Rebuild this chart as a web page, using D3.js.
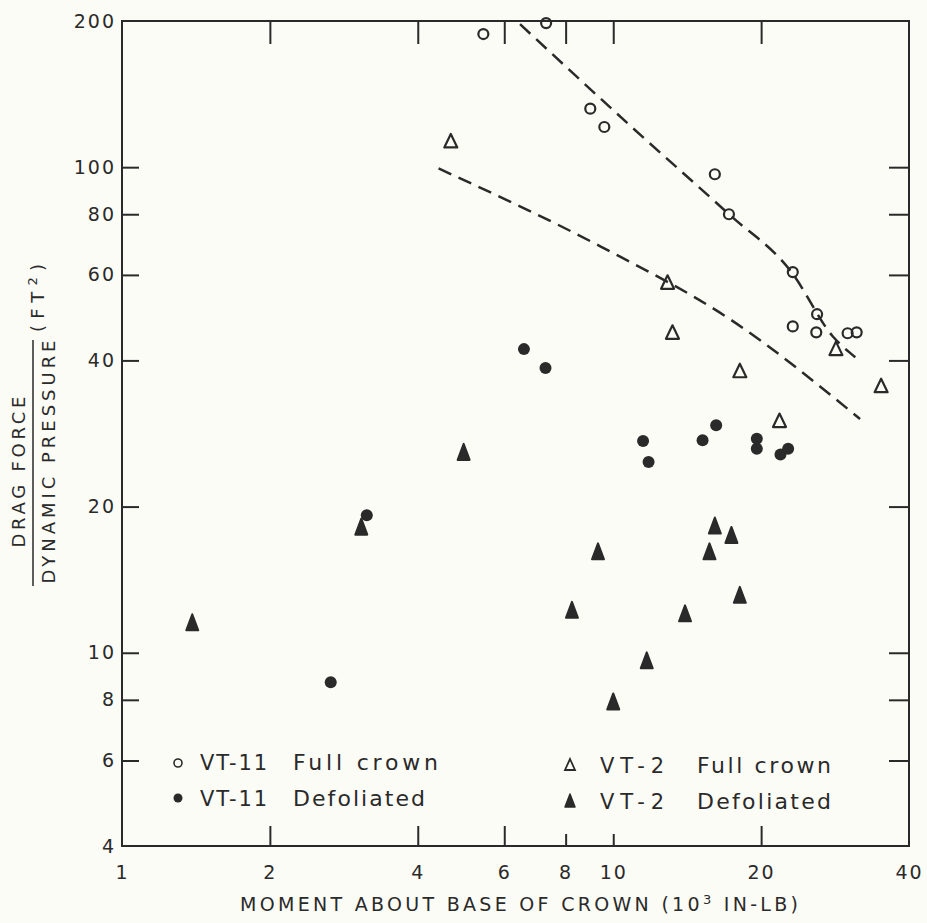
<!DOCTYPE html>
<html>
<head>
<meta charset="utf-8">
<script src="https://cdn.jsdelivr.net/npm/d3@7"></script>
<style>
  body { margin: 0; background: #fcfcf6; }
  svg { display: block; }
  text { font-family: 'DejaVu Sans', sans-serif; fill: #2a2a2a; }
</style>
</head>
<body>
<div id="chart"></div>
<script>
// VT-11 full crown (open circles)
const vt11FullX = [5.44, 7.30, 8.98, 9.59, 16.1, 17.2, 23.2, 26.0, 23.2, 25.9, 30.0, 31.3];
const vt11FullY = [188, 198, 132, 121, 96.7, 80.0, 60.8, 49.8, 47.0, 45.7, 45.5, 45.7];

// VT-11 defoliated (filled circles)
const vt11DefX = [6.58, 7.28, 3.15, 2.66, 11.5, 11.8, 15.2, 16.2, 19.6, 19.6, 21.9, 22.7];
const vt11DefY = [42.2, 38.6, 19.2, 8.7, 27.3, 24.7, 27.4, 29.4, 27.6, 26.3, 25.6, 26.3];

// VT-2 full crown (open triangles)
const vt2FullX = [4.67, 12.9, 13.2, 18.1, 21.8, 28.4, 35.1];
const vt2FullY = [113, 57.8, 45.6, 38.0, 30.0, 42.2, 35.4];

// VT-2 defoliated (filled triangles)
const vt2DefX = [1.39, 3.07, 4.96, 9.31, 8.24, 10.0, 11.7, 14.0, 16.1, 15.7, 17.4, 18.1];
const vt2DefY = [11.5, 18.1, 25.8, 16.1, 12.2, 7.9, 9.6, 12.0, 18.2, 16.1, 17.4, 13.1];

// dashed fit curves
const fitVt11 = [[6.46, 197], [11.0, 120], [17.2, 80.0], [23.0, 61.0], [28.0, 44.8], [31.1, 40.6]];
const fitVt2 = [[4.41, 99.4], [9.41, 68.7], [17.3, 48.6], [31.8, 30.3]];

const xLabelTicks = [1, 2, 4, 6, 8, 10, 20, 40];
const xInnerTicks = [2, 4, 6, 8, 10, 20];
const yLabelTicks = [4, 6, 8, 10, 20, 40, 60, 80, 100, 200];
const yInnerTicks = [6, 8, 10, 20, 40, 60, 80, 100];

const ink = '#2a2a2a';

const config = {
  containerWidth: 927,
  containerHeight: 923,
  margin: { top: 21, right: 18, bottom: 77, left: 122 }
};
config.width = config.containerWidth - config.margin.left - config.margin.right;
config.height = config.containerHeight - config.margin.top - config.margin.bottom;

const svg = d3.select('#chart').append('svg')
  .attr('width', config.containerWidth)
  .attr('height', config.containerHeight);

const chart = svg.append('g')
  .attr('transform', `translate(${config.margin.left},${config.margin.top})`);

const xScale = d3.scaleLog().domain([1, 40]).range([0, config.width]);
const yScale = d3.scaleLog().domain([4, 200]).range([config.height, 0]);

// frame
chart.append('rect')
  .attr('width', config.width)
  .attr('height', config.height)
  .attr('fill', 'none')
  .attr('stroke', ink)
  .attr('stroke-width', 2);

const styleAxis = g => {
  g.select('.domain').remove();
  g.selectAll('line').attr('stroke', ink).attr('stroke-width', 2);
  g.selectAll('text')
    .attr('fill', ink)
    .style('font-size', '19px')
    .style('letter-spacing', '2px');
};

// bottom: labels + inward ticks
const xBottom = chart.append('g')
  .attr('transform', `translate(0,${config.height})`)
  .call(d3.axisBottom(xScale).tickValues(xLabelTicks).tickSize(-20).tickPadding(20)
    .tickFormat(d3.format('d')))
  .call(styleAxis);
xBottom.selectAll('.tick')
  .filter(d => d === 1 || d === 40)
  .select('line').remove();
xBottom.selectAll('.tick')
  .filter(d => d === 8 || d === 10)
  .select('line').attr('y2', -12);

chart.append('g')
  .call(d3.axisTop(xScale).tickValues(xInnerTicks).tickSize(-23).tickFormat(''))
  .call(styleAxis);

const yLeft = chart.append('g')
  .call(d3.axisLeft(yScale).tickValues(yLabelTicks).tickSize(-17).tickPadding(6)
    .tickFormat(d3.format('d')))
  .call(styleAxis);
yLeft.selectAll('.tick')
  .filter(d => d === 4 || d === 200)
  .select('line').remove();

chart.append('g')
  .attr('transform', `translate(${config.width},0)`)
  .call(d3.axisRight(yScale).tickValues(yInnerTicks).tickSize(-20).tickFormat(''))
  .call(styleAxis);

// fit lines
const line = d3.line()
  .x(d => xScale(d[0]))
  .y(d => yScale(d[1]))
  .curve(d3.curveMonotoneX);

chart.selectAll('.fit')
  .data([fitVt11, fitVt2])
  .join('path')
  .attr('class', 'fit')
  .attr('d', line)
  .attr('fill', 'none')
  .attr('stroke', ink)
  .attr('stroke-width', 2.5)
  .attr('stroke-dasharray', '14,8');

// markers
const openTri = 'M0,-7.5L6.5,6L-6.5,6Z';
const fillTri = 'M0,-9L6,7L-6,7Z';

const zip = (xs, ys) => xs.map((v, i) => [v, ys[i]]);

chart.selectAll('.vt11-full')
  .data(zip(vt11FullX, vt11FullY))
  .join('circle')
  .attr('class', 'vt11-full')
  .attr('cx', d => xScale(d[0]))
  .attr('cy', d => yScale(d[1]))
  .attr('r', 5)
  .attr('fill', 'none')
  .attr('stroke', ink)
  .attr('stroke-width', 2.2);

chart.selectAll('.vt11-def')
  .data(zip(vt11DefX, vt11DefY))
  .join('circle')
  .attr('class', 'vt11-def')
  .attr('cx', d => xScale(d[0]))
  .attr('cy', d => yScale(d[1]))
  .attr('r', 6)
  .attr('fill', ink);

chart.selectAll('.vt2-full')
  .data(zip(vt2FullX, vt2FullY))
  .join('path')
  .attr('class', 'vt2-full')
  .attr('transform', d => `translate(${xScale(d[0])},${yScale(d[1])})`)
  .attr('d', openTri)
  .attr('fill', 'none')
  .attr('stroke', ink)
  .attr('stroke-width', 2.2)
  .attr('stroke-linejoin', 'round');

chart.selectAll('.vt2-def')
  .data(zip(vt2DefX, vt2DefY))
  .join('path')
  .attr('class', 'vt2-def')
  .attr('transform', d => `translate(${xScale(d[0])},${yScale(d[1])})`)
  .attr('d', fillTri)
  .attr('fill', ink)
  .attr('stroke', ink)
  .attr('stroke-width', 2)
  .attr('stroke-linejoin', 'round');

// legend
const legend = svg.append('g');
const legendRows = [
  { x: 178, y: 763, mark: 'open-circle', code: 'VT-11', codeX: 200, codeLen: 67, label: 'Full crown', labelX: 293, labelLen: 145, base: 770 },
  { x: 178, y: 798, mark: 'fill-circle', code: 'VT-11', codeX: 200, codeLen: 67, label: 'Defoliated', labelX: 293, labelLen: 132, base: 806 },
  { x: 570, y: 765, mark: 'open-tri', code: 'VT-2', codeX: 600, codeLen: 64, label: 'Full crown', labelX: 697, labelLen: 134, base: 773 },
  { x: 570, y: 801, mark: 'fill-tri', code: 'VT-2', codeX: 600, codeLen: 64, label: 'Defoliated', labelX: 697, labelLen: 134, base: 809 }
];

legendRows.forEach(r => {
  if (r.mark === 'open-circle') {
    legend.append('circle').attr('cx', r.x).attr('cy', r.y).attr('r', 4)
      .attr('fill', 'none').attr('stroke', ink).attr('stroke-width', 1.6);
  } else if (r.mark === 'fill-circle') {
    legend.append('circle').attr('cx', r.x).attr('cy', r.y).attr('r', 4.5).attr('fill', ink);
  } else if (r.mark === 'open-tri') {
    legend.append('path').attr('transform', `translate(${r.x},${r.y})`)
      .attr('d', 'M0,-6L5,5L-5,5Z').attr('fill', 'none').attr('stroke', ink).attr('stroke-width', 1.8);
  } else {
    legend.append('path').attr('transform', `translate(${r.x},${r.y})`)
      .attr('d', 'M0,-7L5,6L-5,6Z').attr('fill', ink).attr('stroke', ink)
      .attr('stroke-width', 1.5).attr('stroke-linejoin', 'round');
  }
  legend.append('text').attr('x', r.codeX).attr('y', r.base)
    .attr('textLength', r.codeLen).attr('lengthAdjust', 'spacing')
    .style('font-size', '21px').text(r.code);
  legend.append('text').attr('x', r.labelX).attr('y', r.base)
    .attr('textLength', r.labelLen).attr('lengthAdjust', 'spacing')
    .style('font-size', '22px').text(r.label);
});

// x axis title
const xTitle = svg.append('text')
  .attr('x', 240)
  .attr('y', 911)
  .attr('textLength', 558)
  .attr('lengthAdjust', 'spacing')
  .style('font-size', '19px');
xTitle.append('tspan').text('MOMENT ABOUT BASE OF CROWN (10');
xTitle.append('tspan').attr('dy', -7).style('font-size', '13px').text('3');
xTitle.append('tspan').attr('dy', 7).text(' IN-LB)');

// y axis title (fraction)
const yTitle = svg.append('g');
yTitle.append('text')
  .attr('transform', 'translate(25,472) rotate(-90)')
  .attr('text-anchor', 'middle')
  .attr('textLength', 151)
  .attr('lengthAdjust', 'spacing')
  .style('font-size', '18px')
  .text('DRAG FORCE');
yTitle.append('line')
  .attr('x1', 33).attr('x2', 33)
  .attr('y1', 340).attr('y2', 586)
  .attr('stroke', ink)
  .attr('stroke-width', 1.5);
yTitle.append('text')
  .attr('transform', 'translate(55,462) rotate(-90)')
  .attr('text-anchor', 'middle')
  .attr('textLength', 243)
  .attr('lengthAdjust', 'spacing')
  .style('font-size', '18px')
  .text('DYNAMIC PRESSURE');
const ft = yTitle.append('text')
  .attr('transform', 'translate(44,332) rotate(-90)')
  .attr('textLength', 68)
  .attr('lengthAdjust', 'spacing')
  .style('font-size', '18px');
ft.append('tspan').text('(FT');
ft.append('tspan').attr('dy', -7).style('font-size', '13px').text('2');
ft.append('tspan').attr('dy', 7).text(')');
</script>
</body>
</html>
